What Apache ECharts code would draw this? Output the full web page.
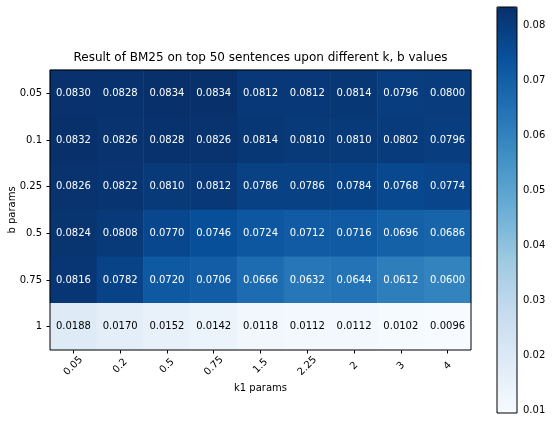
<!DOCTYPE html>
<html>
<head>
<meta charset="utf-8">
<script src="https://cdn.jsdelivr.net/npm/echarts@6/dist/echarts.min.js"></script>
<style>html,body{margin:0;padding:0;background:#fff;}#c{width:553px;height:424px;}</style>
</head>
<body>
<div id="c"></div>
<script>
const kParams = ['0.05', '0.2', '0.5', '0.75', '1.5', '2.25', '2', '3', '4'];
const bParams = ['0.05', '0.1', '0.25', '0.5', '0.75', '1'];
const row_b005 = [0.0830, 0.0828, 0.0834, 0.0834, 0.0812, 0.0812, 0.0814, 0.0796, 0.0800];
const row_b01  = [0.0832, 0.0826, 0.0828, 0.0826, 0.0814, 0.0810, 0.0810, 0.0802, 0.0796];
const row_b025 = [0.0826, 0.0822, 0.0810, 0.0812, 0.0786, 0.0786, 0.0784, 0.0768, 0.0774];
const row_b05  = [0.0824, 0.0808, 0.0770, 0.0746, 0.0724, 0.0712, 0.0716, 0.0696, 0.0686];
const row_b075 = [0.0816, 0.0782, 0.0720, 0.0706, 0.0666, 0.0632, 0.0644, 0.0612, 0.0600];
const row_b1   = [0.0188, 0.0170, 0.0152, 0.0142, 0.0118, 0.0112, 0.0112, 0.0102, 0.0096];
const colorbarTicks = [0.01, 0.02, 0.03, 0.04, 0.05, 0.06, 0.07, 0.08];

const rows = [row_b005, row_b01, row_b025, row_b05, row_b075, row_b1];
let vmin = Infinity, vmax = -Infinity;
const data = [];
rows.forEach((r, yi) => r.forEach((v, xi) => {
  vmin = Math.min(vmin, v); vmax = Math.max(vmax, v);
}));
const thresh = (vmin + vmax) / 2;
rows.forEach((r, yi) => r.forEach((v, xi) => {
  data.push({ value: [xi, yi, v], label: { color: v > thresh ? '#ffffff' : '#000000' } });
}));

const FONT = 'DejaVu Sans';
const chart = echarts.init(document.getElementById('c'), null, { renderer: 'canvas' });
chart.setOption({
  animation: false,
  backgroundColor: '#fff',
  textStyle: { fontFamily: FONT },
  title: {
    text: 'Result of BM25 on top 50 sentences upon different k, b values',
    left: 260.5, top: 52, textAlign: 'center', padding: 0,
    textStyle: { fontFamily: FONT, fontSize: 12, fontWeight: 'normal', color: '#000' }
  },
  grid: [
    { left: 50, top: 70, width: 421, height: 280, show: true, borderColor: '#000', borderWidth: 1, backgroundColor: 'transparent', z: 3, containLabel: false, outerBoundsMode: 'none' },
    { left: 497, top: 7, width: 20, height: 406, show: true, borderColor: '#000', borderWidth: 1, backgroundColor: 'transparent', z: 10, containLabel: false, outerBoundsMode: 'none' }
  ],
  xAxis: [
    {
      gridIndex: 0, type: 'category', data: kParams,
      name: 'k1 params', nameLocation: 'middle', nameGap: 33, nameMoveOverlap: false,
      nameTextStyle: { fontFamily: FONT, fontSize: 10, color: '#000' },
      axisLine: { show: false },
      axisTick: { show: true, alignWithLabel: true, length: 3.5, lineStyle: { color: '#000' } },
      axisLabel: { rotate: 45, fontFamily: FONT, fontSize: 10, color: '#000', margin: 16, align: 'center', verticalAlign: 'middle' },
      splitLine: { show: false }
    },
    { gridIndex: 1, type: 'value', show: false }
  ],
  yAxis: [
    {
      gridIndex: 0, type: 'category', data: bParams, inverse: true,
      name: 'b params', nameLocation: 'middle', nameGap: 33, nameMoveOverlap: false,
      nameTextStyle: { fontFamily: FONT, fontSize: 10, color: '#000' },
      axisLine: { show: false },
      axisTick: { show: true, alignWithLabel: true, length: 3.5, lineStyle: { color: '#000' } },
      axisLabel: { fontFamily: FONT, fontSize: 10, color: '#000', margin: 8 },
      splitLine: { show: false }
    },
    {
      gridIndex: 1, type: 'value', position: 'right', min: vmin, max: vmax,
      axisLine: { show: false },
      axisTick: { show: true, length: 3.5, lineStyle: { color: '#000' }, customValues: colorbarTicks },
      axisLabel: { fontFamily: FONT, fontSize: 10, color: '#000', margin: 6, customValues: colorbarTicks, formatter: v => v.toFixed(2) },
      splitLine: { show: false }
    }
  ],
  visualMap: {
    type: 'continuous', min: vmin, max: vmax, calculable: false, hoverLink: false,
    seriesIndex: 0,
    orient: 'vertical', left: 497, top: 7, padding: 0,
    itemWidth: 20, itemHeight: 406, text: null, showLabel: false,
    inRange: { color: ['#f7fbff', '#deebf7', '#c6dbef', '#9ecae1', '#6baed6', '#4292c6', '#2171b5', '#08519c', '#08306b'] }
  },
  series: [{
    type: 'heatmap', xAxisIndex: 0, yAxisIndex: 0, data: data,
    label: { show: true, fontFamily: FONT, fontSize: 10, formatter: p => p.value[2].toFixed(4) },
    itemStyle: { borderWidth: 0 },
    emphasis: { disabled: true }
  }]
});
</script>
</body>
</html>
